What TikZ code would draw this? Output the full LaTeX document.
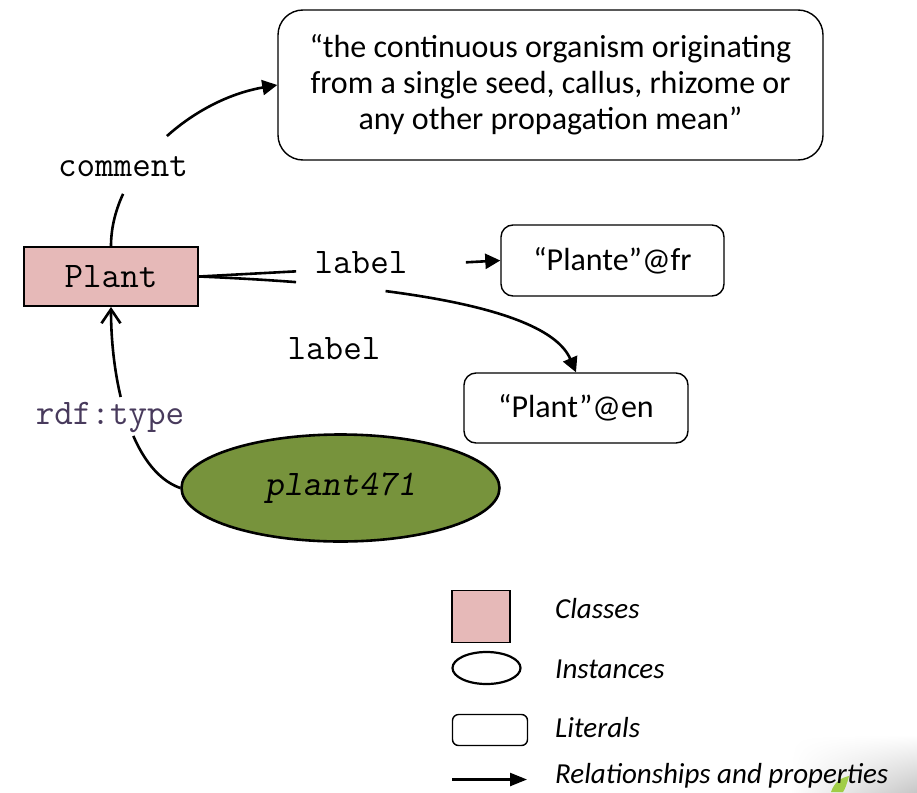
\documentclass[tikz,border=0pt]{standalone}
\usepackage{fontspec}
\setmainfont{Carlito}
\usetikzlibrary{arrows.meta,shapes.geometric,shadings}
\definecolor{classpink}{RGB}{230,185,184}
\definecolor{instgreen}{RGB}{119,147,60}
\definecolor{typeink}{RGB}{72,58,92}
\definecolor{leafgreen}{RGB}{160,205,70}

\begin{document}
\begin{tikzpicture}[x=1pt,y=-1pt,
  monotext/.style={font=\ttfamily\fontsize{36}{40}\selectfont},
  littext/.style={font=\fontsize{32}{36}\selectfont},
  legtext/.style={font=\itshape\fontsize{29}{32}\selectfont, anchor=base west, inner sep=0pt},
  classbox/.style={draw, line width=2.4pt, fill=classpink, inner sep=0pt},
  instbox/.style={ellipse, draw, line width=2.6pt, fill=instgreen, inner sep=0pt},
  litbox/.style={draw, line width=1.4pt, rounded corners=12pt, inner sep=0pt, align=center, littext},
  proplabel/.style={monotext, anchor=base, inner sep=0pt},
  rel/.style={line width=2.6pt, -{Triangle[length=15pt,width=15pt]}},
  typerel/.style={line width=2.6pt, -{Straight Barb[length=14pt,width=19pt,line width=2.6pt]}}
]
\useasboundingbox (0,0) rectangle (917,792);

% soft grey corner with a leaf tip
\begin{scope}
  \clip (0,0) rectangle (917,792);
  \shade[upper left=white, upper right=white, lower left=white, lower right=black!22]
    (790,735) rectangle (917,792);
  \fill[leafgreen] (831,792) .. controls (834,783) and (840,778) .. (849,776)
    .. controls (847,784) and (845,789) .. (843,792) -- cycle;
\end{scope}

% nodes of the graph
\node[classbox, minimum width=174pt, minimum height=58.5pt, monotext] (plant) at (111,276.5) {Plant};
\node[litbox, minimum width=545pt, minimum height=150pt, rounded corners=25pt] (comment) at (550.5,85)
  {\textquotedblleft the continuous organism originating\\from a single seed, callus, rhizome or\\any other propagation mean\textquotedblright};
\node[litbox, minimum width=223pt, minimum height=71pt] (plantefr) at (612.5,260.5) {\textquotedblleft Plante\textquotedblright @fr};
\node[litbox, minimum width=224pt, minimum height=70pt] (planten) at (576,408) {\textquotedblleft Plant\textquotedblright @en};
\node[instbox, minimum width=318pt, minimum height=107pt, monotext] (inst) at (340.5,488) {\slshape plant471};

% property names
\node[proplabel] (lcomment) at (123,176) {comment};
\node[proplabel] (llabelfr) at (361,273) {label};
\node[proplabel] (llabelen) at (334,359) {label};
\node[proplabel, text=typeink] (ltype) at (110,424) {rdf:type};

% connectors, each broken where its property name sits
\draw[rel, dash pattern=on 54pt off 73pt on 400pt]
  (plant.north) .. controls (111,170) and (190,100) .. (comment.west);
\draw[rel, dash pattern=on 97pt off 170pt on 300pt]
  (plant.east) -- (plantefr.west);
\draw[rel, dash pattern=on 97pt off 90pt on 600pt]
  (plant.east) .. controls (350,283) and (545,300) .. (planten.north);
\draw[typerel, dash pattern=on 72pt off 41pt on 300pt]
  (inst.west) .. controls (130,470) and (111,380) .. (plant.south);

% legend
\node[classbox, line width=1.8pt, minimum width=58pt, minimum height=52pt] (keyclass) at (481,616.5) {};
\node[instbox, fill=none, line width=2.2pt, minimum width=68pt, minimum height=32pt] (keyinst) at (486.5,668) {};
\node[litbox, rounded corners=6pt, minimum width=75pt, minimum height=31pt] (keylit) at (490,730) {};
\coordinate (keyrela) at (452,779.5);
\coordinate (keyrelb) at (527,779.5);
\draw[line width=2.4pt, -{Triangle[length=17pt,width=13pt]}] (keyrela) -- (keyrelb);

\node[legtext] (tclass) at (555,618) {Classes};
\node[legtext] (tinst) at (555,678) {Instances};
\node[legtext] (tlit) at (555,737) {Literals};
\node[legtext] (trel) at (555,783) {Relationships and properties};
\end{tikzpicture}
\end{document}
